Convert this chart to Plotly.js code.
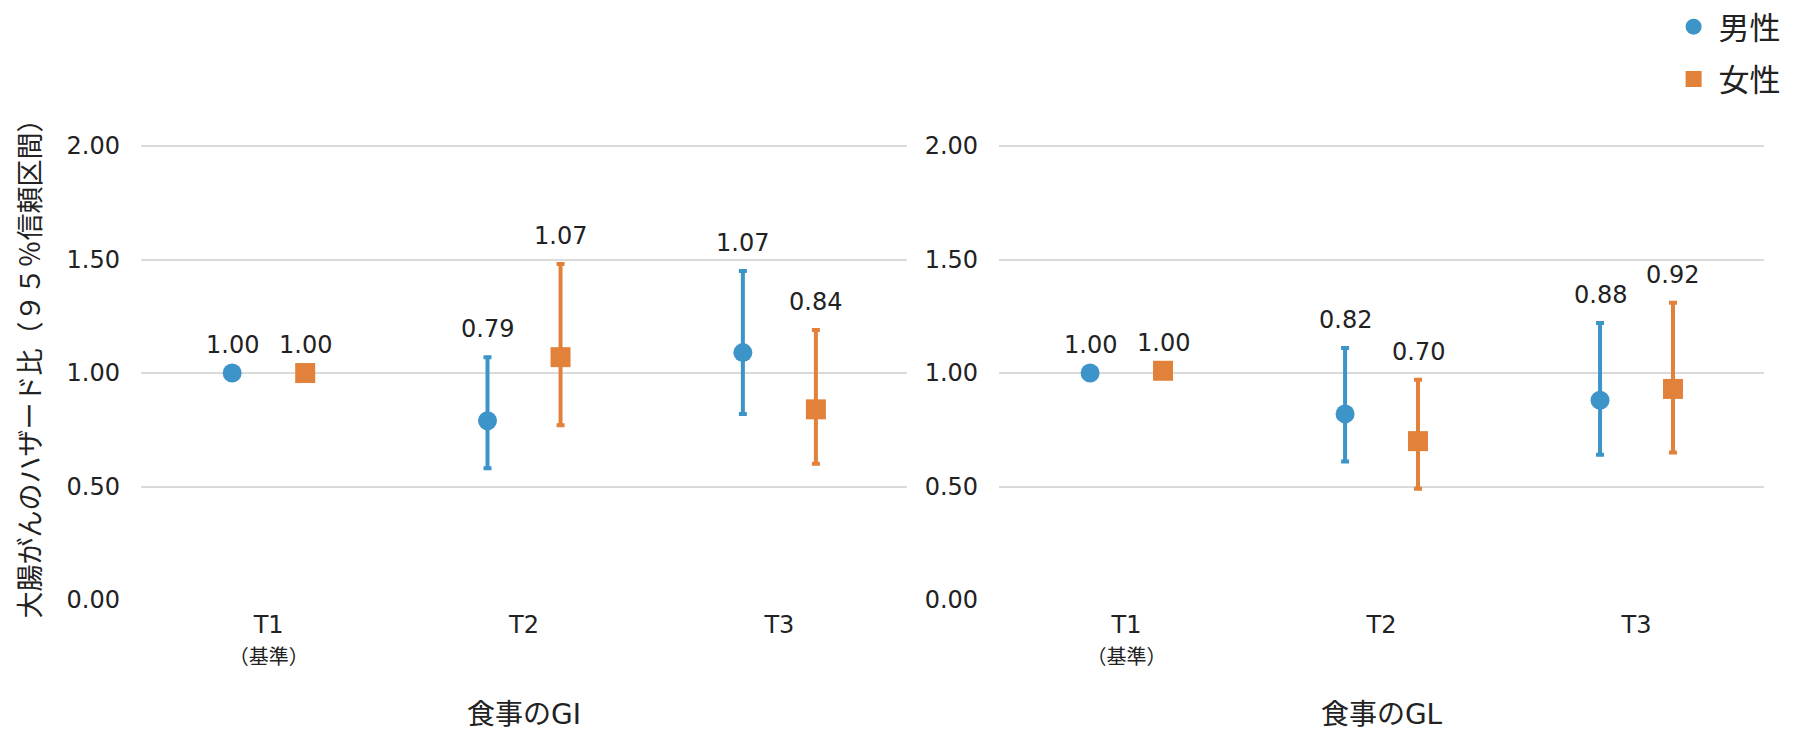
<!DOCTYPE html>
<html>
<head>
<meta charset="utf-8">
<script src="https://cdn.plot.ly/plotly-3.0.1.min.js"></script>
<style>
  html, body { margin: 0; padding: 0; background: #fff; }
  #chart { width: 1800px; height: 750px; }
</style>
</head>
<body>
<div id="chart"></div>
<script>
"use strict";

// tiers on the x axis
const tierLabels = ['T1<br><span style="font-size:20px">（基準）</span>', 'T2', 'T3'];
const sexNames = ['男性', '女性'];
const yTitle = '大腸がんのハザード比（９５％信頼区間）';

// 食事のGI  (hazard ratio, 95% CI low, 95% CI high, printed label)
const giMaleHr = [1.00, 0.79, 1.09];
const giMaleLo = [null, 0.58, 0.82];
const giMaleHi = [null, 1.07, 1.45];
const giMaleText = ['1.00', '0.79', '1.07'];

const giFemaleHr = [1.00, 1.07, 0.84];
const giFemaleLo = [null, 0.77, 0.60];
const giFemaleHi = [null, 1.48, 1.19];
const giFemaleText = ['1.00', '1.07', '0.84'];

// 食事のGL
const glMaleHr = [1.00, 0.82, 0.88];
const glMaleLo = [null, 0.61, 0.64];
const glMaleHi = [null, 1.11, 1.22];
const glMaleText = ['1.00', '0.82', '0.88'];

const glFemaleHr = [1.01, 0.70, 0.93];
const glFemaleLo = [null, 0.49, 0.65];
const glFemaleHi = [null, 0.97, 1.31];
const glFemaleText = ['1.00', '0.70', '0.92'];

const blue = '#3d94c8';
const orange = '#e2823a';
const dodge = 0.143;
const fontFam = '"DejaVu Sans", "Noto Sans CJK JP", sans-serif';

function errTrace(hr, lo, hi, name, color, symbol, shift, xa, ya, showLegend) {
  let x = hr.map((v, i) => i + shift);
  return {
    x: x,
    y: hr,
    name: name,
    type: 'scatter',
    mode: 'markers',
    xaxis: xa,
    yaxis: ya,
    showlegend: showLegend,
    legendgroup: name,
    marker: {color: color, size: symbol === 'circle' ? 19 : 20, symbol: symbol},
    error_y: {
      type: 'data',
      symmetric: false,
      array: hi.map((v, i) => v === null ? null : v - hr[i]),
      arrayminus: lo.map((v, i) => v === null ? null : hr[i] - v),
      color: color,
      thickness: 4,
      width: 4
    }
  };
}

function labelNotes(hr, hi, text, shift, xa, ya) {
  return hr.map((v, i) => ({
    x: i + shift,
    y: hi[i] === null ? v : hi[i],
    xref: xa,
    yref: ya,
    text: text[i],
    showarrow: false,
    yshift: 28,
    yanchor: 'middle',
    font: {size: 24, color: '#222'}
  }));
}

let data = [
  errTrace(giMaleHr, giMaleLo, giMaleHi, sexNames[0], blue, 'circle', -dodge, 'x', 'y', true),
  errTrace(giFemaleHr, giFemaleLo, giFemaleHi, sexNames[1], orange, 'square', dodge, 'x', 'y', true),
  errTrace(glMaleHr, glMaleLo, glMaleHi, sexNames[0], blue, 'circle', -dodge, 'x2', 'y2', false),
  errTrace(glFemaleHr, glFemaleLo, glFemaleHi, sexNames[1], orange, 'square', dodge, 'x2', 'y2', false)
];

let annotations = [].concat(
  labelNotes(giMaleHr, giMaleHi, giMaleText, -dodge, 'x', 'y'),
  labelNotes(giFemaleHr, giFemaleHi, giFemaleText, dodge, 'x', 'y'),
  labelNotes(glMaleHr, glMaleHi, glMaleText, -dodge, 'x2', 'y2'),
  labelNotes(glFemaleHr, glFemaleHi, glFemaleText, dodge, 'x2', 'y2')
);

// y axis title, set lower than the plot centre as in the original
annotations.push({
  text: yTitle,
  xref: 'paper',
  yref: 'paper',
  x: -0.068,
  y: 0.456,
  textangle: -90,
  showarrow: false,
  xanchor: 'center',
  yanchor: 'middle',
  font: {size: 27, color: '#222'}
});

let xBase = {
  range: [-0.5, 2.5],
  tickvals: [0, 1, 2],
  ticktext: tierLabels,
  showgrid: false,
  zeroline: false,
  showline: false,
  ticks: '',
  ticklabelstandoff: 8,
  tickfont: {size: 24, color: '#222'}
};

let yBase = {
  range: [0, 2.3],
  tickvals: [0, 0.5, 1, 1.5, 2],
  tickformat: '.2f',
  showgrid: true,
  gridcolor: '#dadada',
  gridwidth: 2,
  zeroline: false,
  showline: false,
  ticks: '',
  ticklabelstandoff: 20,
  tickfont: {size: 24, color: '#222'}
};

let layout = {
  width: 1800,
  height: 750,
  margin: {l: 141, r: 36, t: 78, b: 150, autoexpand: false},
  paper_bgcolor: '#fff',
  plot_bgcolor: '#fff',
  font: {family: fontFam, color: '#222'},
  xaxis: Object.assign({}, xBase, {
    domain: [0, 0.472],
    anchor: 'y',
    title: {text: '食事のGI', font: {size: 28}, standoff: 36}
  }),
  xaxis2: Object.assign({}, xBase, {
    domain: [0.5287, 1],
    anchor: 'y2',
    title: {text: '食事のGL', font: {size: 28}, standoff: 36}
  }),
  yaxis: Object.assign({}, yBase, {
    anchor: 'x'
  }),
  yaxis2: Object.assign({}, yBase, {
    anchor: 'x2'
  }),
  showlegend: true,
  legend: {
    xref: 'container',
    yref: 'container',
    x: 0.992,
    xanchor: 'right',
    y: 1.006,
    yanchor: 'top',
    font: {size: 31, color: '#222'},
    itemwidth: 40,
    tracegroupgap: 9,
    bgcolor: 'rgba(0,0,0,0)'
  },
  annotations: annotations
};

Plotly.newPlot('chart', data, layout, {displayModeBar: false, staticPlot: true});
</script>
</body>
</html>
